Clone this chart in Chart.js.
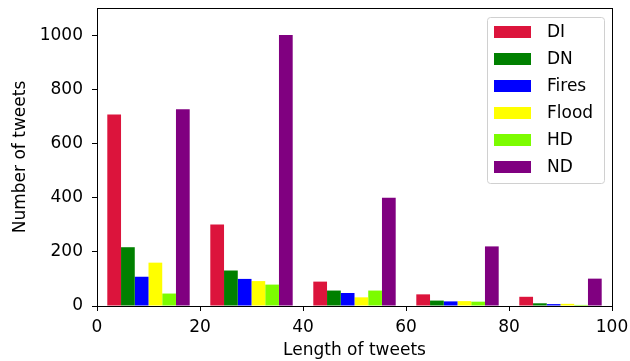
<!DOCTYPE html>
<html>
<head>
<meta charset="utf-8">
<script src="https://cdn.jsdelivr.net/npm/chart.js@4"></script>
<style>
  html, body { margin:0; padding:0; background:#fff; }
  #wrap { width:630px; height:361px; }
</style>
</head>
<body>
<div id="wrap"><canvas id="c" width="630" height="361"></canvas></div>
<script>
// bin centres of the histogram (bins of width 20 from 0 to 100)
const binCenters = [10, 30, 50, 70, 90];
const labels = ['DI', 'DN', 'Fires', 'Flood', 'HD', 'ND'];
const colors = ['#dc143c', '#008000', '#0000ff', '#ffff00', '#7cfc00', '#800080'];

const diVals    = [707, 301, 90, 43, 34];
const dnVals    = [217, 131, 57, 20, 10];
const firesVals = [108, 100, 48, 17, 7];
const floodVals = [160, 92, 32, 18, 8];
const hdVals    = [46, 79, 57, 16, 4];
const ndVals    = [726, 1000, 400, 220, 101];

const seriesVals = [diVals, dnVals, firesVals, floodVals, hdVals, ndVals];
const FONT = "'DejaVu Sans', sans-serif";

// frame + legend drawn over the chart area (matplotlib style)
const frameLegend = {
  id: 'frameLegend',
  afterDraw(chart) {
    const { ctx, chartArea: a } = chart;
    ctx.save();
    ctx.strokeStyle = '#000';
    ctx.lineWidth = 1;
    ctx.strokeRect(Math.round(a.left) + 0.5, Math.round(a.top) + 0.5,
                   Math.round(a.right - a.left), Math.round(a.bottom - a.top));

    // legend box
    const lx = 487, ly = 17, lw = 117, lh = 166;
    ctx.fillStyle = 'rgba(255,255,255,0.8)';
    ctx.strokeStyle = '#d0d0d0';
    ctx.beginPath();
    ctx.roundRect(lx + 0.5, ly + 0.5, lw, lh, 3);
    ctx.fill();
    ctx.stroke();
    ctx.font = '17px ' + FONT;
    ctx.textBaseline = 'middle';
    chart.data.datasets.forEach((ds, i) => {
      const y = ly + 15 + i * 27;
      ctx.fillStyle = ds.backgroundColor;
      ctx.fillRect(lx + 7, y - 6, 37, 12);
      ctx.fillStyle = '#000';
      ctx.fillText(ds.label, lx + 60, y + 1);
    });
    ctx.restore();
  }
};

new Chart(document.getElementById('c'), {
  type: 'bar',
  data: {
    datasets: labels.map((l, i) => ({
      label: l,
      data: binCenters.map((x, j) => ({ x, y: seriesVals[i][j] })),
      backgroundColor: colors[i],
      borderWidth: 0,
      categoryPercentage: 0.8,
      barPercentage: 1.0,
    })),
  },
  options: {
    responsive: false,
    animation: false,
    layout: { padding: { top: 8, right: 18, left: 0, bottom: 0 } },
    plugins: { legend: { display: false }, tooltip: { enabled: false } },
    scales: {
      x: {
        type: 'linear', min: 0, max: 100, offset: false,
        ticks: { stepSize: 20, color: '#000', font: { family: FONT, size: 17 }, padding: 6, maxRotation: 0 },
        grid: { offset: false, drawOnChartArea: false, drawTicks: true, tickLength: 5, tickColor: '#000' },
        border: { display: true, color: '#000' },
        title: { display: true, text: 'Length of tweets', color: '#000', font: { family: FONT, size: 17 }, padding: { top: 4, bottom: 0 } },
        afterFit(s) { s.height = 55; s.paddingLeft = 0; s.paddingRight = 0; },
      },
      y: {
        min: 0, max: 1100,
        ticks: { stepSize: 200, color: '#000', font: { family: FONT, size: 17 }, padding: 9,
                 callback: v => String(v) },
        afterBuildTicks(s) { s.ticks = s.ticks.filter(t => t.value <= 1000); },
        grid: { drawOnChartArea: false, drawTicks: true, tickLength: 5, tickColor: '#000' },
        border: { display: true, color: '#000' },
        title: { display: true, text: 'Number of tweets', color: '#000', font: { family: FONT, size: 17 }, padding: { top: 10, bottom: 0 } },
        afterFit(s) { s.width = 97; s.paddingTop = 0; s.paddingBottom = 0; },
      },
    },
  },
  plugins: [frameLegend],
});
</script>
</body>
</html>
